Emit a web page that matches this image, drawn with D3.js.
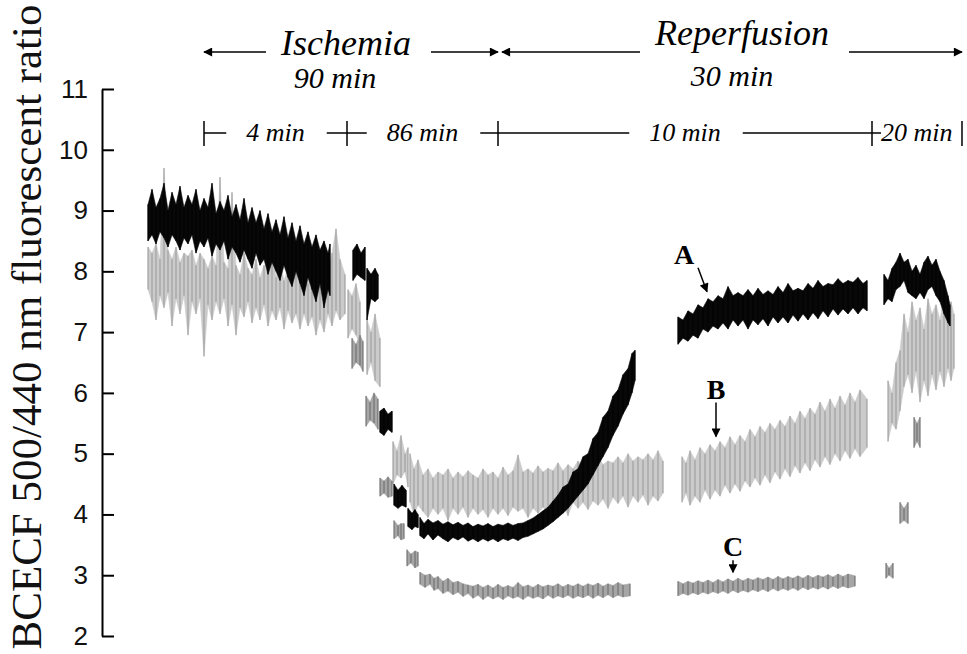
<!DOCTYPE html>
<html>
<head>
<meta charset="utf-8">
<script src="https://cdn.jsdelivr.net/npm/d3@7"></script>
<style>
  body { margin: 0; background: #fff; }
  svg { display: block; }
  .serif { font-family: "Liberation Serif", "Times New Roman", serif; }
</style>
</head>
<body>
<div id="chart"></div>
<script>
// y axis
let yTicks = [2, 3, 4, 5, 6, 7, 8, 9, 10, 11];
let yLabel = "BCECF 500/440 nm fluorescent ratio";

// timeline marks (record position, a.u.)
let phases = [
  { label: "Ischemia", dur: "90 min", from: 5.6, to: 35.0 },
  { label: "Reperfusion", dur: "30 min", from: 35.4, to: 81.4 }
];
let periods = [
  { label: "4 min", from: 5.6, to: 19.9 },
  { label: "86 min", from: 19.9, to: 35.0 },
  { label: "10 min", from: 35.0, to: 72.4 },
  { label: "20 min", from: 72.4, to: 81.4 }
];

// traces: segments of [position, low, high]
let traceA = [
  [[0.0, 8.5, 9.1], [0.4, 8.6, 9.35], [0.8, 8.45, 9.05], [1.2, 8.65, 9.2], [1.6, 8.55, 9.45], [2.0, 8.4, 9.0],
   [2.4, 8.6, 9.3], [2.8, 8.5, 9.1], [3.2, 8.35, 9.4], [3.6, 8.55, 9.05], [4.0, 8.45, 9.25], [4.4, 8.6, 9.1],
   [4.8, 8.3, 9.35], [5.2, 8.5, 9.0], [5.6, 8.4, 9.2], [6.0, 8.55, 9.05], [6.4, 8.25, 9.45], [6.8, 8.45, 8.95],
   [7.2, 8.35, 9.15], [7.6, 8.5, 9.0], [8.0, 8.2, 9.25], [8.4, 8.4, 8.9], [8.8, 8.3, 9.1], [9.2, 8.15, 8.85],
   [9.6, 8.35, 9.2], [10.0, 8.2, 8.8], [10.4, 8.05, 9.05], [10.8, 8.3, 8.8], [11.2, 8.1, 9.0], [11.6, 8.2, 8.7],
   [12.0, 7.95, 8.95], [12.4, 8.15, 8.65], [12.8, 8.0, 8.85], [13.2, 7.85, 8.6], [13.6, 8.1, 8.9], [14.0, 7.9, 8.55],
   [14.4, 7.75, 8.8], [14.8, 8.0, 8.5], [15.2, 7.8, 8.75], [15.6, 7.6, 8.45], [16.0, 7.9, 8.65], [16.4, 7.7, 8.4],
   [16.8, 7.5, 8.6], [17.2, 7.8, 8.35], [17.6, 7.4, 8.5], [18.0, 7.7, 8.3], [18.2, 7.6, 8.45]],
  [[20.5, 7.85, 8.35], [20.9, 7.95, 8.45], [21.3, 7.9, 8.3], [21.7, 7.85, 8.4]],
  [[21.9, 7.2, 8.05], [22.3, 7.55, 7.95], [22.7, 7.5, 8.05], [23.0, 7.55, 7.95]],
  [[23.2, 5.35, 5.7], [23.6, 5.3, 5.75], [24.0, 5.4, 5.65], [24.4, 5.35, 5.7]],
  [[24.6, 4.15, 4.5], [25.0, 4.1, 4.4], [25.4, 4.15, 4.48], [25.8, 4.12, 4.4]],
  [[26.0, 3.8, 4.1], [26.4, 3.75, 4.02], [26.7, 3.8, 4.08], [27.0, 3.78, 4.0]],
  [[27.2, 3.65, 3.95], [27.6, 3.6, 3.85], [28.0, 3.68, 3.92], [28.5, 3.58, 3.86], [29.0, 3.66, 3.9],
   [29.5, 3.6, 3.84], [30.0, 3.55, 3.88], [30.5, 3.62, 3.83], [31.0, 3.58, 3.87], [31.5, 3.63, 3.82],
   [32.0, 3.56, 3.86], [32.5, 3.6, 3.8], [33.0, 3.55, 3.84], [33.5, 3.6, 3.81], [34.0, 3.56, 3.85],
   [34.5, 3.6, 3.8], [35.0, 3.55, 3.84], [35.5, 3.6, 3.82], [36.0, 3.57, 3.86], [36.5, 3.61, 3.82],
   [37.0, 3.57, 3.85], [37.5, 3.62, 3.86], [38.0, 3.64, 3.9], [38.5, 3.68, 3.94], [39.0, 3.72, 4.0],
   [39.5, 3.76, 4.06], [40.0, 3.82, 4.12], [40.5, 3.88, 4.22], [41.0, 3.95, 4.32], [41.5, 4.02, 4.45],
   [42.0, 4.1, 4.5], [42.5, 4.2, 4.7], [43.0, 4.3, 4.75], [43.5, 4.4, 4.95], [44.0, 4.5, 5.0],
   [44.5, 4.65, 5.25], [45.0, 4.8, 5.35], [45.5, 4.95, 5.6], [46.0, 5.1, 5.7], [46.5, 5.3, 5.95],
   [47.0, 5.45, 6.05], [47.5, 5.65, 6.3], [48.0, 5.8, 6.4], [48.4, 6.0, 6.65], [48.7, 6.2, 6.7]],
  [[53.0, 6.8, 7.25], [53.5, 6.9, 7.2], [54.0, 6.85, 7.35], [54.5, 6.95, 7.3], [55.0, 6.9, 7.45],
   [55.5, 7.05, 7.4], [56.0, 7.0, 7.55], [56.5, 7.1, 7.5], [57.0, 7.05, 7.6], [57.5, 7.15, 7.55],
   [58.0, 7.05, 7.75], [58.5, 7.2, 7.6], [59.0, 7.1, 7.65], [59.5, 7.2, 7.6], [60.0, 7.05, 7.7],
   [60.5, 7.2, 7.6], [61.0, 7.12, 7.72], [61.5, 7.22, 7.62], [62.0, 7.1, 7.68], [62.5, 7.25, 7.62],
   [63.0, 7.15, 7.75], [63.5, 7.25, 7.65], [64.0, 7.15, 7.8], [64.5, 7.28, 7.68], [65.0, 7.18, 7.72],
   [65.5, 7.3, 7.68], [66.0, 7.2, 7.8], [66.5, 7.32, 7.72], [67.0, 7.22, 7.85], [67.5, 7.35, 7.75],
   [68.0, 7.25, 7.8], [68.5, 7.38, 7.78], [69.0, 7.28, 7.88], [69.5, 7.38, 7.8], [70.0, 7.3, 7.85],
   [70.5, 7.4, 7.82], [71.0, 7.3, 7.9], [71.5, 7.4, 7.8], [71.9, 7.35, 7.85]],
  [[73.6, 7.45, 7.95], [74.0, 7.55, 7.85], [74.4, 7.5, 8.05], [74.8, 7.7, 8.15], [75.2, 7.75, 8.3],
   [75.6, 7.85, 8.15], [76.0, 7.65, 8.2], [76.4, 7.6, 8.0], [76.8, 7.55, 8.1], [77.2, 7.65, 7.95],
   [77.6, 7.55, 8.15], [78.0, 7.7, 8.25], [78.4, 7.75, 8.1], [78.8, 7.6, 8.2], [79.2, 7.5, 8.0],
   [79.6, 7.3, 7.85], [80.0, 7.15, 7.6], [80.2, 7.1, 7.45]]
];

let traceB = [
  [[0.0, 7.7, 8.4], [0.4, 7.5, 8.3], [0.8, 7.2, 8.45], [1.2, 7.6, 8.2], [1.6, 7.4, 9.7], [2.0, 7.65, 8.35],
   [2.4, 7.1, 8.2], [2.8, 7.55, 8.4], [3.2, 7.3, 8.15], [3.6, 7.6, 8.3], [4.0, 6.95, 8.25], [4.4, 7.5, 8.35],
   [4.8, 7.3, 8.1], [5.2, 7.55, 8.3], [5.6, 6.6, 8.2], [6.0, 7.45, 8.05], [6.4, 7.2, 8.25], [6.8, 7.5, 8.1],
   [7.2, 7.3, 9.55], [7.6, 7.55, 8.15], [8.0, 7.1, 8.05], [8.4, 7.45, 9.3], [8.8, 6.95, 8.1], [9.2, 7.4, 7.95],
   [9.6, 7.25, 8.3], [10.0, 7.5, 8.05], [10.4, 7.15, 7.95], [10.8, 7.4, 8.2], [11.2, 7.2, 7.9], [11.6, 7.45, 8.1],
   [12.0, 7.1, 7.95], [12.4, 7.35, 8.5], [12.8, 7.2, 7.9], [13.2, 7.4, 8.15], [13.6, 7.05, 7.85], [14.0, 7.35, 8.05],
   [14.4, 7.15, 7.9], [14.8, 7.3, 8.3], [15.2, 7.05, 7.85], [15.6, 7.3, 8.0], [16.0, 7.1, 7.8], [16.4, 7.25, 8.1],
   [16.8, 6.95, 7.75], [17.2, 7.2, 7.95], [17.6, 7.0, 7.7], [18.0, 7.3, 8.0], [18.4, 7.1, 8.3], [18.8, 7.35, 8.7],
   [19.2, 7.2, 8.2], [19.7, 7.3, 7.95]],
  [[20.0, 6.9, 7.7], [20.4, 7.05, 7.6], [20.8, 6.95, 7.8], [21.2, 6.8, 7.5]],
  [[21.9, 6.3, 7.2], [22.3, 6.5, 7.0], [22.7, 6.2, 7.3], [23.2, 6.1, 6.9]],
  [[24.5, 4.5, 5.2], [24.9, 4.65, 5.05], [25.3, 4.6, 5.3], [25.7, 4.7, 5.0], [26.0, 4.45, 5.1]],
  [[26.2, 4.2, 5.0], [26.6, 4.0, 4.75], [27.0, 4.15, 4.9], [27.5, 4.05, 4.65], [28.0, 3.95, 4.75],
   [28.5, 4.1, 4.6], [29.0, 4.0, 4.7], [29.5, 4.1, 4.65], [30.0, 3.9, 4.75], [30.5, 4.1, 4.6],
   [31.0, 4.0, 4.7], [31.5, 4.12, 4.62], [32.0, 3.95, 4.72], [32.5, 4.1, 4.65], [33.0, 4.0, 4.6],
   [33.5, 4.08, 4.75], [34.0, 3.95, 4.65], [34.5, 4.1, 4.7], [35.0, 4.0, 4.6], [35.5, 4.1, 4.78],
   [36.0, 3.98, 4.65], [36.5, 4.12, 4.72], [37.0, 4.05, 4.98], [37.5, 4.1, 4.7], [38.0, 3.95, 4.75],
   [38.5, 4.1, 4.68], [39.0, 4.02, 4.8], [39.5, 4.12, 4.7], [40.0, 4.0, 4.76], [40.5, 4.15, 4.72],
   [41.0, 4.05, 4.85], [41.5, 4.15, 4.72], [42.0, 3.98, 4.82], [42.5, 4.2, 4.75], [43.0, 4.1, 4.88],
   [43.5, 4.2, 4.78], [44.0, 4.08, 4.85], [44.5, 4.22, 4.8], [45.0, 4.15, 4.95], [45.5, 4.25, 4.82],
   [46.0, 4.1, 4.88], [46.5, 4.28, 4.85], [47.0, 4.18, 4.95], [47.5, 4.3, 4.85], [48.0, 4.12, 5.0],
   [48.5, 4.3, 4.88], [49.0, 4.2, 4.95], [49.5, 4.32, 4.9], [50.0, 4.15, 5.0], [50.5, 4.3, 4.9],
   [51.0, 4.22, 5.05], [51.5, 4.35, 4.88]],
  [[53.4, 4.2, 4.95], [53.8, 4.35, 4.85], [54.2, 4.15, 5.05], [54.7, 4.3, 4.9], [55.2, 4.2, 5.1],
   [55.7, 4.4, 5.0], [56.2, 4.25, 5.15], [56.7, 4.4, 5.05], [57.2, 4.3, 5.2], [57.7, 4.48, 5.1],
   [58.2, 4.35, 5.28], [58.7, 4.5, 5.15], [59.2, 4.38, 5.3], [59.7, 4.55, 5.2], [60.2, 4.45, 5.4],
   [60.7, 4.6, 5.28], [61.2, 4.48, 5.45], [61.7, 4.65, 5.35], [62.2, 4.52, 5.5], [62.7, 4.7, 5.4],
   [63.2, 4.58, 5.55], [63.7, 4.75, 5.45], [64.2, 4.62, 5.62], [64.7, 4.8, 5.5], [65.2, 4.68, 5.7],
   [65.7, 4.85, 5.58], [66.2, 4.72, 5.75], [66.7, 4.9, 5.65], [67.2, 4.78, 5.85], [67.7, 4.95, 5.7],
   [68.2, 4.82, 5.9], [68.7, 5.0, 5.75], [69.2, 4.88, 5.95], [69.7, 5.05, 5.8], [70.2, 4.92, 6.0],
   [70.7, 5.08, 5.85], [71.2, 4.95, 6.05], [71.9, 5.1, 5.9]],
  [[74.0, 5.2, 6.2], [74.4, 5.5, 6.0], [74.8, 5.4, 6.5], [75.2, 5.7, 6.7], [75.6, 6.1, 7.3], [76.0, 6.3, 7.0],
   [76.4, 6.0, 7.5], [76.8, 6.35, 7.2], [77.2, 5.85, 7.4], [77.6, 6.2, 7.05], [78.0, 5.95, 7.55], [78.4, 6.3, 7.3],
   [78.8, 6.05, 7.45], [79.2, 6.35, 7.2], [79.6, 6.1, 7.6], [80.0, 6.4, 7.35], [80.3, 6.2, 7.5], [80.6, 6.4, 7.3]]
];

let traceC = [
  [[20.4, 6.4, 6.9], [20.8, 6.5, 6.8], [21.2, 6.45, 6.95], [21.5, 6.35, 6.85]],
  [[21.8, 5.45, 5.95], [22.2, 5.55, 5.85], [22.6, 5.5, 6.0], [23.0, 5.4, 5.9]],
  [[23.2, 4.3, 4.6], [23.6, 4.35, 4.55], [24.0, 4.28, 4.62], [24.4, 4.3, 4.55]],
  [[24.6, 3.6, 3.9], [25.0, 3.65, 3.82], [25.3, 3.58, 3.85], [25.6, 3.6, 3.85]],
  [[25.9, 3.15, 3.42], [26.3, 3.2, 3.35], [26.7, 3.12, 3.4], [27.0, 3.15, 3.38]],
  [[27.2, 2.85, 3.05], [27.7, 2.8, 3.0], [28.2, 2.85, 3.02], [28.6, 2.75, 2.95], [29.0, 2.78, 2.98],
   [29.5, 2.7, 2.9], [30.0, 2.74, 2.95], [30.5, 2.68, 2.88], [31.0, 2.72, 2.9], [31.5, 2.65, 2.86],
   [32.0, 2.7, 2.84], [32.5, 2.62, 2.82], [33.0, 2.67, 2.85], [33.5, 2.6, 2.8], [34.0, 2.66, 2.84],
   [34.5, 2.61, 2.79], [35.0, 2.65, 2.85], [35.5, 2.6, 2.8], [36.0, 2.66, 2.83], [36.5, 2.62, 2.8],
   [37.0, 2.65, 2.88], [37.5, 2.6, 2.81], [38.0, 2.66, 2.84], [38.5, 2.62, 2.8], [39.0, 2.65, 2.85],
   [39.5, 2.61, 2.81], [40.0, 2.67, 2.84], [40.5, 2.62, 2.82], [41.0, 2.66, 2.86], [41.5, 2.63, 2.81],
   [42.0, 2.67, 2.85], [42.5, 2.62, 2.82], [43.0, 2.66, 2.86], [43.5, 2.63, 2.82], [44.0, 2.67, 2.86],
   [44.5, 2.62, 2.83], [45.0, 2.67, 2.87], [45.5, 2.63, 2.82], [46.0, 2.68, 2.86], [46.5, 2.63, 2.83],
   [47.0, 2.67, 2.88], [47.5, 2.64, 2.84], [48.2, 2.66, 2.86]],
  [[53.0, 2.66, 2.9], [53.5, 2.7, 2.86], [54.0, 2.67, 2.9], [54.5, 2.71, 2.87], [55.0, 2.68, 2.91],
   [55.5, 2.72, 2.88], [56.0, 2.69, 2.92], [56.5, 2.73, 2.88], [57.0, 2.7, 2.93], [57.5, 2.74, 2.89],
   [58.0, 2.7, 2.94], [58.5, 2.75, 2.9], [59.0, 2.71, 2.95], [59.5, 2.75, 2.91], [60.0, 2.72, 2.95],
   [60.5, 2.76, 2.92], [61.0, 2.73, 2.96], [61.5, 2.77, 2.93], [62.0, 2.73, 2.97], [62.5, 2.78, 2.93],
   [63.0, 2.74, 2.98], [63.5, 2.78, 2.94], [64.0, 2.75, 2.98], [64.5, 2.79, 2.95], [65.0, 2.75, 2.99],
   [65.5, 2.8, 2.95], [66.0, 2.76, 3.0], [66.5, 2.8, 2.96], [67.0, 2.77, 3.0], [67.5, 2.81, 2.97],
   [68.0, 2.77, 3.01], [68.5, 2.82, 2.97], [69.0, 2.78, 3.02], [69.5, 2.82, 2.98], [70.0, 2.79, 3.02],
   [70.7, 2.82, 2.99]],
  [[73.8, 2.95, 3.2], [74.1, 3.0, 3.12], [74.5, 2.95, 3.2]],
  [[75.2, 3.85, 4.2], [75.6, 3.9, 4.1], [76.0, 3.85, 4.2]],
  [[76.6, 5.1, 5.6], [76.9, 5.2, 5.5], [77.2, 5.1, 5.6]]
];

// curve labels: [name, position, value the arrow points to]
let curveLabels = [["A", 55.9, 7.6], ["B", 56.8, 5.15], ["C", 58.5, 2.95]];

let width = 967, height = 654;

let svg = d3.select("#chart").append("svg")
  .attr("width", width).attr("height", height);

let x = d3.scaleLinear().domain([0, 81]).range([148, 958]);
let y = d3.scaleLinear().domain([2, 11]).range([636, 89]);

// arrow head marker
let defs = svg.append("defs");
defs.append("marker").attr("id", "head")
  .attr("viewBox", "0 0 10 10").attr("refX", 9).attr("refY", 5)
  .attr("markerWidth", 13).attr("markerHeight", 9)
  .attr("markerUnits", "userSpaceOnUse").attr("orient", "auto")
  .append("path").attr("d", "M0,0L10,5L0,10Z").attr("fill", "#000");

// y axis, ticks pointing inwards
let yAxis = d3.axisLeft(y).tickValues(yTicks).tickSizeInner(-12).tickSizeOuter(0).tickPadding(14);
let gy = svg.append("g").attr("transform", "translate(102,0)").call(yAxis);
gy.select(".domain").attr("stroke-width", 2);
gy.selectAll(".tick line").attr("stroke-width", 2);
gy.selectAll(".tick text")
  .attr("font-family", "'Liberation Sans', Arial, sans-serif")
  .attr("font-size", 26).attr("fill", "#111");

svg.append("text").attr("class", "serif")
  .attr("transform", "translate(41," + 327 + ") rotate(-90)")
  .attr("text-anchor", "middle").attr("font-size", 43).attr("fill", "#111")
  .text(yLabel);

// traces: band between low and high, plus a stroke for every sample
let area = d3.area().x(d => x(d[0])).y0(d => y(d[1])).y1(d => y(d[2]));

function drawTrace(data, fill, stroke, sw) {
  let g = svg.append("g");
  data.forEach(seg => {
    g.append("path").attr("d", area(seg)).attr("fill", fill)
      .attr("stroke", fill).attr("stroke-width", 0.6);
    g.selectAll(null).data(seg).join("line")
      .attr("x1", d => x(d[0])).attr("x2", d => x(d[0]))
      .attr("y1", d => y(d[1])).attr("y2", d => y(d[2]))
      .attr("stroke", stroke).attr("stroke-width", sw);
  });
}

drawTrace(traceB, "#cbcbcb", "#8a8a8a", 0.8);
drawTrace(traceC, "#a6a6a6", "#585858", 0.8);
drawTrace(traceA, "#080808", "#000", 1);

// A, B, C labels with arrows
let labelPos = { A: [-23, -32, -14, 4], B: [0, -46, 0, 8], C: [0, -22, 0, 6] };
curveLabels.forEach(c => {
  let px = x(c[1]), py = y(c[2]);
  let o = labelPos[c[0]];
  svg.append("text").attr("class", "serif")
    .attr("x", px + o[0]).attr("y", py + o[1])
    .attr("text-anchor", "middle").attr("font-size", 28).attr("font-weight", "bold")
    .text(c[0]);
  svg.append("line")
    .attr("x1", px + o[0] - o[2]).attr("y1", py + o[1] + 4)
    .attr("x2", px).attr("y2", py - o[3])
    .attr("stroke", "#000").attr("stroke-width", 1.5)
    .attr("marker-end", "url(#head)");
});

// timeline: phases with arrows
let rowPhase = [55, 45], rowDur = [88, 86];
phases.forEach((p, i) => {
  let x0 = x(p.from), x1 = x(p.to), cx = (x0 + x1) / 2 + (i === 0 ? -5 : 10);
  let t = svg.append("text").attr("class", "serif")
    .attr("x", cx).attr("y", rowPhase[i])
    .attr("text-anchor", "middle").attr("font-size", 36).attr("font-style", "italic")
    .text(p.label);
  let bb = t.node().getBBox();
  let ay = 52;
  svg.append("line").attr("x1", bb.x - 14).attr("y1", ay).attr("x2", x0).attr("y2", ay)
    .attr("stroke", "#000").attr("stroke-width", 1.5).attr("marker-end", "url(#head)");
  svg.append("line").attr("x1", bb.x + bb.width + 20).attr("y1", ay).attr("x2", x1).attr("y2", ay)
    .attr("stroke", "#000").attr("stroke-width", 1.5).attr("marker-end", "url(#head)");
  svg.append("text").attr("class", "serif")
    .attr("x", (x0 + x1) / 2 + (i === 0 ? -16 : 0)).attr("y", rowDur[i])
    .attr("text-anchor", "middle").attr("font-size", 30).attr("font-style", "italic")
    .text(p.dur);
});

// timeline: periods with tick marks
let rowY = 133;
periods.forEach((p, i) => {
  let x0 = x(p.from), x1 = x(p.to);
  let last = i === periods.length - 1;
  let t = svg.append("text").attr("class", "serif")
    .attr("x", last ? x0 + 9 : (x0 + x1) / 2).attr("y", rowY + 8)
    .attr("text-anchor", last ? "start" : "middle")
    .attr("font-size", 26).attr("font-style", "italic")
    .text(p.label);
  let bb = t.node().getBBox();
  if (!last) {
    svg.append("line").attr("x1", x0).attr("x2", bb.x - 20).attr("y1", rowY).attr("y2", rowY)
      .attr("stroke", "#000").attr("stroke-width", 1.5);
    svg.append("line").attr("x1", bb.x + bb.width + 22).attr("x2", x1).attr("y1", rowY).attr("y2", rowY)
      .attr("stroke", "#000").attr("stroke-width", 1.5);
  } else {
    svg.append("line").attr("x1", x0).attr("x2", x0 + 9).attr("y1", rowY).attr("y2", rowY)
      .attr("stroke", "#000").attr("stroke-width", 1.5);
  }
  svg.append("line").attr("x1", x0).attr("x2", x0).attr("y1", rowY - 12).attr("y2", rowY + 13)
    .attr("stroke", "#000").attr("stroke-width", 1.5);
  if (last) {
    svg.append("line").attr("x1", x1).attr("x2", x1).attr("y1", rowY - 12).attr("y2", rowY + 13)
      .attr("stroke", "#000").attr("stroke-width", 1.5);
  }
});
</script>
</body>
</html>
